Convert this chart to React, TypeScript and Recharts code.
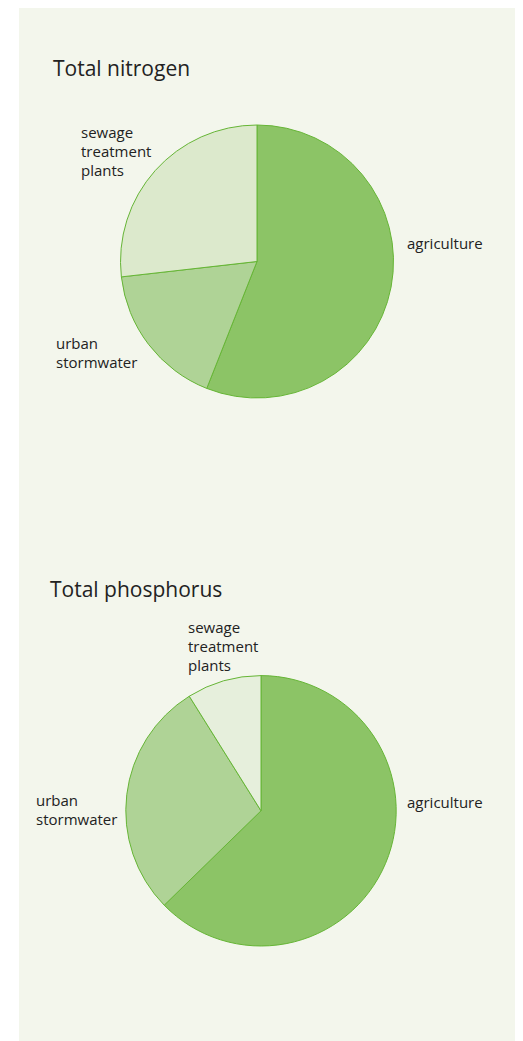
import React from "react";
import { PieChart, Pie, Cell } from "recharts";

const categories = ["agriculture", "urban stormwater", "sewage treatment plants"];
const nitrogenValues = [56, 17.2, 26.8];
const phosphorusValues = [62.7, 28.4, 8.9];
const chartTitles = ["Total nitrogen", "Total phosphorus"];
const labelLines = [["agriculture"], ["urban", "stormwater"], ["sewage", "treatment", "plants"]];

const nitrogenColors = ["#8cc466", "#afd396", "#dce9cc"];
const phosphorusColors = ["#8cc466", "#afd396", "#e6efdc"];
const STROKE = "#66b536";
const BG = "#f3f6ec";
const FONT = "'Open Sans', 'Noto Sans', sans-serif";

const nitrogenData = categories.map((name, i) => ({ name, value: nitrogenValues[i] }));
const phosphorusData = categories.map((name, i) => ({ name, value: phosphorusValues[i] }));

// label anchor offsets from pie centre (left x, first baseline)
const nitrogenLabelOffsets = [
  [150, -12.5],
  [-201, 87.5],
  [-176, -124],
];
const phosphorusLabelOffsets = [
  [146, -3],
  [-225, -5],
  [-73, -178],
];

const makeLabel = (offsets: number[][]) => (props: any) => {
  const { cx, cy, index } = props;
  const [dx, dy] = offsets[index];
  const lines = labelLines[index];
  return (
    <text
      x={cx + dx}
      y={cy + dy}
      fill="#222"
      fontSize={15}
      fontFamily={FONT}
      textAnchor="start"
    >
      {lines.map((l, i) => (
        <tspan key={i} x={cx + dx} dy={i === 0 ? 0 : 19}>
          {l}
        </tspan>
      ))}
    </text>
  );
};

export default function App() {
  const W = 498;
  const H = 1033;
  return (
    <div style={{ marginLeft: 11, width: W, height: H, background: BG, position: "relative" }}>
      <PieChart width={W} height={H} margin={{ top: 0, right: 0, bottom: 0, left: 0 }}>
        <Pie
          data={nitrogenData}
          dataKey="value"
          nameKey="name"
          cx={238}
          cy={253.5}
          outerRadius={136.5}
          startAngle={90}
          endAngle={-270}
          stroke={STROKE}
          strokeWidth={1}
          labelLine={false}
          label={makeLabel(nitrogenLabelOffsets)}
          isAnimationActive={false}
        >
          {nitrogenData.map((d, i) => (
            <Cell key={d.name} fill={nitrogenColors[i]} />
          ))}
        </Pie>
        <Pie
          data={phosphorusData}
          dataKey="value"
          nameKey="name"
          cx={242}
          cy={802.8}
          outerRadius={135.2}
          startAngle={90}
          endAngle={-270}
          stroke={STROKE}
          strokeWidth={1}
          labelLine={false}
          label={makeLabel(phosphorusLabelOffsets)}
          isAnimationActive={false}
        >
          {phosphorusData.map((d, i) => (
            <Cell key={d.name} fill={phosphorusColors[i]} />
          ))}
        </Pie>
      </PieChart>
      <svg
        width={W}
        height={H}
        style={{ position: "absolute", left: 0, top: 0, pointerEvents: "none" }}
      >
        <text x={34} y={68} fontSize={21} fontFamily={FONT} fill="#222">
          {chartTitles[0]}
        </text>
        <text x={31} y={589} fontSize={21} fontFamily={FONT} fill="#222">
          {chartTitles[1]}
        </text>
      </svg>
    </div>
  );
}
